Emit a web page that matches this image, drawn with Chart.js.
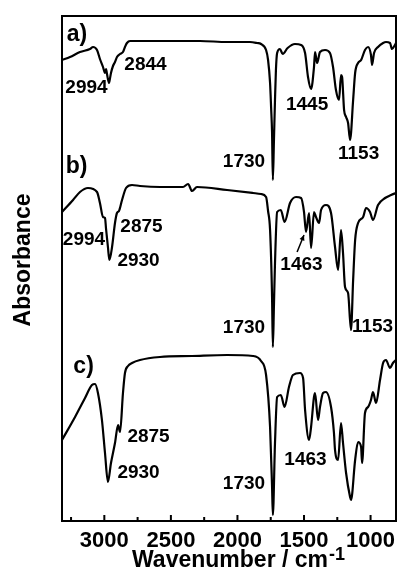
<!DOCTYPE html>
<html><head><meta charset="utf-8">
<script src="https://cdn.jsdelivr.net/npm/chart.js@4/dist/chart.umd.min.js"></script>
<style>html,body{margin:0;padding:0;background:#fff}#wrap{width:398px;height:569px;position:relative}</style>
</head><body><div id="wrap"><canvas id="c" width="398" height="569"></canvas></div>
<script>
// ---- data (wavenumber in cm-1, absorbance in arbitrary stacked units) ----
const wavenumbersA = [3318,3258,3183,3108,3085,3055,3033,3010,2995,2987,2980,2965,2957,2950,2935,2920,2905,2882,2860,2845,2830,2807,2732,2582,2409,2281,2078,1906,1853,1823,1785,1770,1755,1747,1740,1734,1726,1718,1711,1702,1681,1660,1623,1568,1522,1492,1470,1447,1425,1417,1402,1380,1342,1305,1282,1260,1237,1222,1214,1199,1184,1169,1154,1131,1116,1094,1071,1042,1019,997,989,974,944,906,884,854,839,817,809];
const absorbanceA = [461,464,469,472,474,471,462,454,448,452,447,438,443,448,455,459,464,467,469,474,478,480,480,480,480,480,479,479,478,477,471,461,438,413,388,341,380,421,451,468,472,467,473,477,476,468,444,432,454,469,458,469,471,468,454,431,421,446,444,411,404,398,381,421,448,458,461,471,474,466,456,468,474,478,479,478,472,476,478];

const wavenumbersB = [3318,3235,3183,3123,3055,3033,3010,2995,2987,2973,2962,2942,2920,2905,2890,2867,2837,2792,2732,2582,2409,2371,2341,2304,2078,1883,1823,1785,1770,1755,1740,1734,1726,1718,1702,1674,1646,1605,1560,1522,1500,1485,1462,1447,1425,1410,1387,1372,1335,1297,1267,1244,1222,1207,1192,1169,1147,1131,1116,1094,1056,1034,1004,982,944,891,846,809];
const absorbanceB = [309,321,329,333,329,318,304,303,292,274,261,274,298,308,310,321,333,336,335,334,334,337,330,334,331,328,327,324,310,291,224,174,215,258,309,311,299,318,324,323,309,289,308,273,309,304,298,311,316,308,274,251,291,268,234,228,191,241,281,298,304,313,309,301,316,323,326,328];

const wavenumbersC = [3318,3220,3145,3093,3070,3048,3018,2995,2973,2950,2920,2897,2882,2860,2845,2822,2792,2732,2582,2341,2078,1883,1823,1785,1755,1740,1734,1718,1702,1674,1646,1613,1583,1530,1507,1492,1462,1447,1425,1417,1395,1380,1357,1335,1297,1275,1267,1244,1222,1207,1184,1154,1147,1116,1094,1071,1064,1042,1019,997,982,959,929,906,884,854,832,809];
const absorbanceC = [81,104,123,136,137,128,101,68,39,58,78,96,89,128,148,155,158,161,164,165,166,165,160,146,94,34,6,78,124,126,114,134,146,148,143,111,81,94,124,128,101,114,128,129,114,88,71,61,98,78,48,24,21,61,79,74,58,108,114,121,129,118,141,158,161,153,158,161];

const xTickValues = [3000,2500,2000,1500,1000];
const xMinorTickValues = [3250,2750,2250,1750,1250];

// annotation texts, anchored in data coordinates
const panelLabels = [['a)',3205,486],['b)',3209,354],['c)',3156,154]];
const peakLabels = [
  ['2994',3134,433],['2844',2691,456],['1730',1951,359],['1445',1477,416],['1153',1090,367],
  ['2994',3153,281],['2875',2721,294],['2930',2743,260],['1463',1519,256],['1730',1951,193],['1153',985,194],
  ['2875',2668,84],['2930',2743,48],['1730',1951,37],['1463',1489,61]
];
const arrowB = [[1552,269],[1500,286]];

const FONT = '"Liberation Sans", Arial, sans-serif';
const toPts = (xs, ys) => xs.map((x, i) => ({x, y: ys[i]}));

const overlay = {
  id: 'overlay',
  afterDraw(chart) {
    const {ctx, chartArea: a, scales: {x, y}} = chart;
    ctx.save();
    ctx.strokeStyle = '#000';
    ctx.lineWidth = 2;
    ctx.strokeRect(a.left, a.top, a.right - a.left, a.bottom - a.top);
    ctx.beginPath();
    xTickValues.forEach(v => { const p = x.getPixelForValue(v); ctx.moveTo(p, a.bottom); ctx.lineTo(p, a.bottom - 6); });
    xMinorTickValues.forEach(v => { const p = x.getPixelForValue(v); ctx.moveTo(p, a.bottom); ctx.lineTo(p, a.bottom - 4); });
    ctx.stroke();

    ctx.fillStyle = '#000';
    ctx.textAlign = 'center';
    ctx.textBaseline = 'middle';
    ctx.font = 'bold 23px ' + FONT;
    panelLabels.forEach(([t, wn, v]) => ctx.fillText(t, x.getPixelForValue(wn), y.getPixelForValue(v)));
    ctx.font = 'bold 19px ' + FONT;
    peakLabels.forEach(([t, wn, v]) => ctx.fillText(t, x.getPixelForValue(wn), y.getPixelForValue(v)));

    // arrow
    const x1 = x.getPixelForValue(arrowB[0][0]), y1 = y.getPixelForValue(arrowB[0][1]);
    const x2 = x.getPixelForValue(arrowB[1][0]), y2 = y.getPixelForValue(arrowB[1][1]);
    ctx.lineWidth = 1.5;
    ctx.beginPath(); ctx.moveTo(x1, y1); ctx.lineTo(x2, y2); ctx.stroke();
    const ang = Math.atan2(y2 - y1, x2 - x1);
    ctx.beginPath();
    ctx.moveTo(x2, y2);
    ctx.lineTo(x2 - 6 * Math.cos(ang - 0.45), y2 - 6 * Math.sin(ang - 0.45));
    ctx.lineTo(x2 - 6 * Math.cos(ang + 0.45), y2 - 6 * Math.sin(ang + 0.45));
    ctx.closePath(); ctx.fill();

    // axis titles
    ctx.textAlign = 'left';
    ctx.textBaseline = 'alphabetic';
    ctx.font = 'bold 23px ' + FONT;
    const main = 'Wavenumber / cm';
    const w1 = ctx.measureText(main).width;
    const left = (a.left + a.right) / 2 - w1 / 2 + 1;
    ctx.fillText(main, left, 567);
    ctx.font = 'bold 18px ' + FONT;
    ctx.fillText('-1', left + w1 + 1, 560);

    ctx.save();
    ctx.translate(24, 260);
    ctx.rotate(-Math.PI / 2);
    ctx.textAlign = 'center';
    ctx.textBaseline = 'middle';
    ctx.font = 'bold 23px ' + FONT;
    ctx.fillText('Absorbance', 0, 0);
    ctx.restore();
    ctx.restore();
  }
};

const ds = (xs, ys, label) => ({
  label, data: toPts(xs, ys), borderColor: '#000', borderWidth: 2.2,
  pointRadius: 0, fill: false, cubicInterpolationMode: 'monotone'
});

new Chart(document.getElementById('c'), {
  type: 'line',
  data: { datasets: [ds(wavenumbersA, absorbanceA, 'a'), ds(wavenumbersB, absorbanceB, 'b'), ds(wavenumbersC, absorbanceC, 'c')] },
  options: {
    responsive: false, animation: false, devicePixelRatio: 1,
    layout: { padding: { top: 16, right: 2, left: 0, bottom: 0 } },
    plugins: { legend: { display: false }, tooltip: { enabled: false } },
    scales: {
      x: {
        type: 'linear', reverse: true, min: 809, max: 3318,
        grid: { display: false, drawTicks: false }, border: { display: false },
        afterBuildTicks: s => { s.ticks = xTickValues.map(v => ({value: v})); },
        afterFit: s => { s.height = 48; s.paddingLeft = 0; s.paddingRight = 0; },
        ticks: { color: '#000', padding: 7, font: { family: FONT, size: 22, weight: 'bold' },
                 callback: v => String(v) }
      },
      y: {
        type: 'linear', min: 0, max: 505,
        grid: { display: false }, border: { display: false },
        ticks: { display: false },
        afterFit: s => { s.width = 62; s.paddingTop = 0; s.paddingBottom = 0; }
      }
    }
  },
  plugins: [overlay]
});
</script>
</body></html>
